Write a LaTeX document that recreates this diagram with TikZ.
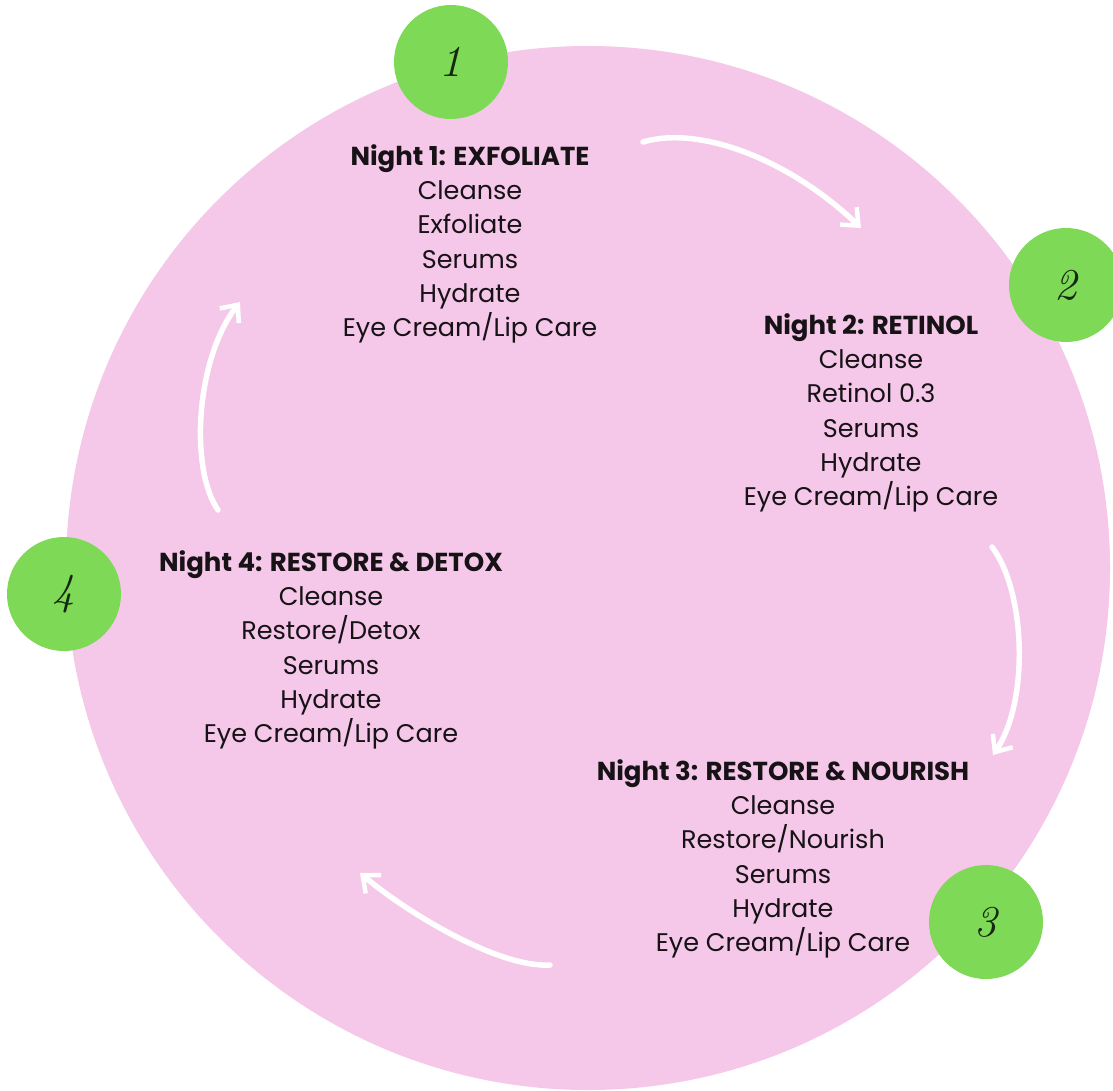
\documentclass[tikz,border=0pt]{standalone}
\usepackage{fontspec}
\setmainfont{Poppins}
\newfontfamily\handfont{lmroman10-italic.otf}
\usetikzlibrary{arrows.meta}
\definecolor{pinkbg}{RGB}{245,199,232}
\definecolor{greenc}{RGB}{126,217,87}
\definecolor{digitc}{RGB}{22,40,18}
\definecolor{txt}{RGB}{22,18,22}
\begin{document}
\begin{tikzpicture}[x=1pt,y=-1pt,
  numcirc/.style={circle, fill=greenc, minimum size=114pt, inner sep=0pt,
    text=digitc, font=\handfont\fontsize{44}{44}\selectfont},
  block/.style={align=center, inner sep=0pt, text=txt,
    font=\fontsize{25.5}{34.3}\selectfont},
  warrow/.style={draw=white, line width=5.5pt, line cap=round,
    -{Straight Barb[length=14pt,width=24pt,line width=4.5pt]}}
]
\useasboundingbox[fill=white] (0,0) rectangle (1113,1090);
\fill[pinkbg] (588,568) circle[radius=522];

\node[numcirc] (c1) at (451,62) {1};
\node[numcirc] (c2) at (1066,285) {2};
\node[numcirc] (c3) at (986,922) {3};
\node[numcirc] (c4) at (64,594) {4};

\newcommand{\hd}[1]{{\fontsize{26}{34.3}\selectfont\bfseries #1}}
\node[block] (n1) at (470,244) {\hd{Night 1: EXFOLIATE}\\Cleanse\\Exfoliate\\Serums\\Hydrate\\Eye Cream/Lip Care};
\node[block] (n2) at (871,413) {\hd{Night 2: RETINOL}\\Cleanse\\Retinol 0.3\\Serums\\Hydrate\\Eye Cream/Lip Care};
\node[block] (n4) at (331,650) {\hd{Night 4: RESTORE \& DETOX}\\Cleanse\\Restore/Detox\\Serums\\Hydrate\\Eye Cream/Lip Care};
\node[block] (n3) at (783,859) {\hd{Night 3: RESTORE \& NOURISH}\\Cleanse\\Restore/Nourish\\Serums\\Hydrate\\Eye Cream/Lip Care};

\coordinate (a1s) at (643,142); \coordinate (a1e) at (861,228);
\coordinate (a2s) at (992,547); \coordinate (a2e) at (993,755);
\coordinate (a3s) at (550,965); \coordinate (a3e) at (360,873);
\coordinate (a4s) at (218,510); \coordinate (a4e) at (240,302);

\draw[warrow] (a1s) .. controls (700,125) and (790,160) .. (a1e);
\draw[warrow] (a2s) .. controls (1025,590) and (1030,700) .. (a2e);
\draw[warrow] (a3s) .. controls (500,968) and (410,915) .. (a3e);
\draw[warrow] (a4s) .. controls (190,470) and (195,360) .. (a4e);
\end{tikzpicture}
\end{document}
